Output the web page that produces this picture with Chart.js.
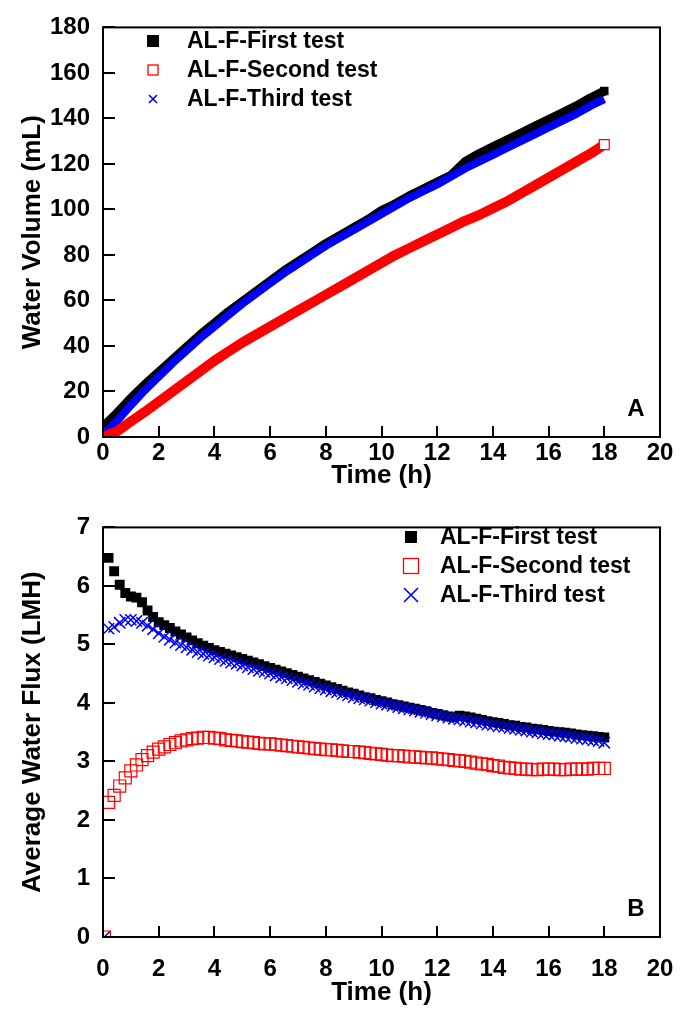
<!DOCTYPE html>
<html>
<head>
<meta charset="utf-8">
<script src="https://cdn.jsdelivr.net/npm/chart.js"></script>
<style>
  html, body { margin: 0; padding: 0; background: #fff; }
  .panel { position: absolute; left: 0; width: 680px; }
  #boxA { top: 0; height: 500px; }
  #boxB { top: 500px; height: 511px; }
</style>
</head>
<body>
<div class="panel" id="boxA"><canvas id="volChart"></canvas></div>
<div class="panel" id="boxB"><canvas id="fluxChart"></canvas></div>
<script>
const seriesNames = ["AL-F-First test", "AL-F-Second test", "AL-F-Third test"];
const timeTicks = [0, 2, 4, 6, 8, 10, 12, 14, 16, 18, 20];
const volTicks = [0, 20, 40, 60, 80, 100, 120, 140, 160, 180];
const fluxTicks = [0, 1, 2, 3, 4, 5, 6, 7];

// panel A: cumulative water volume (mL), read every 0.5 h
const volTime = [0, 0.5, 1, 1.5, 2, 2.5, 3, 3.5, 4, 4.5, 5, 5.5, 6, 6.5, 7, 7.5, 8, 8.5, 9, 9.5,
  10, 10.5, 11, 11.5, 12, 12.5, 13, 13.5, 14, 14.5, 15, 15.5, 16, 16.5, 17, 17.5, 18];
const volFirst = [4.5, 10.5, 17, 23, 28.5, 34, 39.5, 45, 50, 55, 59.5, 64, 68.5, 73, 77, 81, 85, 88.5, 92, 95.5,
  99.5, 102.5, 106, 109, 112, 115, 121, 124.5, 127.5, 130.5, 133.5, 136.5, 139.5, 142.5, 145.5, 149, 152];
const volSecond = [0, 2.5, 6.8, 11, 15.5, 20, 24.5, 29, 33.5, 37.5, 41.5, 45, 48.5, 52, 55.5, 59, 62.5, 66, 69.5, 73,
  76.5, 80, 83, 86, 89, 92, 95, 97.5, 100.5, 103.5, 107, 110.5, 114, 117.5, 121, 124.5, 128.5];
const volThird = [0.5, 7, 14, 20.5, 26.5, 32.5, 38, 43.5, 48.5, 53.5, 58.5, 63, 67.5, 72, 76, 80, 84, 87.5, 91, 94.5,
  98, 101.5, 105, 108, 111, 114.5, 118, 121, 124, 127, 130, 133, 136, 139, 142, 145.5, 148.5];

// panel B: average water flux (LMH)
const fluxTime = [0.05,
  0.2, 0.4, 0.6, 0.8, 1,  1.2, 1.4, 1.6, 1.8, 2,  2.2, 2.4, 2.6, 2.8, 3,  3.2, 3.4, 3.6, 3.8, 4,
  4.2, 4.4, 4.6, 4.8, 5,  5.2, 5.4, 5.6, 5.8, 6,  6.2, 6.4, 6.6, 6.8, 7,  7.2, 7.4, 7.6, 7.8, 8,
  8.2, 8.4, 8.6, 8.8, 9,  9.2, 9.4, 9.6, 9.8, 10,  10.2, 10.4, 10.6, 10.8, 11,  11.2, 11.4, 11.6, 11.8, 12,
  12.2, 12.4, 12.6, 12.8, 13,  13.2, 13.4, 13.6, 13.8, 14,  14.2, 14.4, 14.6, 14.8, 15,  15.2, 15.4, 15.6, 15.8, 16,
  16.2, 16.4, 16.6, 16.8, 17,  17.2, 17.4, 17.6, 17.8, 18];
const fluxFirst = [null,
  6.48, 6.25, 6.02, 5.88, 5.82,  5.8, 5.72, 5.58, 5.47, 5.38,  5.33, 5.28, 5.22, 5.17, 5.12,  5.07, 5.02, 4.98, 4.94, 4.9,
  4.87, 4.84, 4.81, 4.78, 4.75,  4.72, 4.69, 4.66, 4.63, 4.6,  4.57, 4.54, 4.51, 4.48, 4.45,  4.42, 4.39, 4.36, 4.33, 4.3,
  4.27, 4.24, 4.21, 4.18, 4.16,  4.13, 4.1, 4.08, 4.05, 4.03,  4.01, 3.98, 3.96, 3.94, 3.92,  3.9, 3.88, 3.86, 3.83, 3.81,
  3.79, 3.77, 3.76, 3.78, 3.77,  3.75, 3.73, 3.71, 3.69, 3.67,  3.66, 3.64, 3.62, 3.61, 3.59,  3.58, 3.56, 3.55, 3.54, 3.52,
  3.51, 3.5, 3.49, 3.48, 3.46,  3.45, 3.44, 3.43, 3.42, 3.41];
const fluxSecond = [0,
  2.3, 2.42, 2.58, 2.72, 2.84,  2.94, 3.03, 3.1, 3.16, 3.21,  3.25, 3.29, 3.32, 3.35, 3.37,  3.39, 3.4, 3.41, 3.41, 3.4,
  3.39, 3.37, 3.36, 3.35, 3.34,  3.33, 3.32, 3.31, 3.3, 3.3,  3.29, 3.28, 3.27, 3.26, 3.25,  3.24, 3.23, 3.22, 3.21, 3.2,
  3.2, 3.19, 3.18, 3.17, 3.17,  3.16, 3.15, 3.14, 3.13, 3.12,  3.11, 3.1, 3.1, 3.09, 3.08,  3.08, 3.07, 3.06, 3.06, 3.05,
  3.04, 3.03, 3.02, 3.01, 3.0,  2.99, 2.97, 2.96, 2.95, 2.93,  2.92, 2.9, 2.89, 2.88, 2.87,  2.87, 2.86, 2.86, 2.87, 2.87,
  2.87, 2.86, 2.86, 2.87, 2.87,  2.87, 2.87, 2.88, 2.88, 2.88];
const fluxThird = [0,
  5.27, 5.3, 5.37, 5.42, 5.42,  5.4, 5.37, 5.32, 5.26, 5.19,  5.13, 5.08, 5.03, 4.99, 4.95,  4.91, 4.87, 4.84, 4.81, 4.78,
  4.75, 4.72, 4.69, 4.67, 4.64,  4.61, 4.58, 4.55, 4.53, 4.5,  4.47, 4.44, 4.42, 4.39, 4.36,  4.33, 4.31, 4.28, 4.25, 4.23,
  4.2, 4.18, 4.15, 4.13, 4.1,  4.08, 4.06, 4.04, 4.01, 3.99,  3.97, 3.95, 3.93, 3.91, 3.89,  3.87, 3.85, 3.83, 3.81, 3.79,
  3.77, 3.75, 3.73, 3.72, 3.7,  3.68, 3.67, 3.65, 3.63, 3.62,  3.6, 3.59, 3.57, 3.56, 3.54,  3.53, 3.51, 3.5, 3.48, 3.47,
  3.46, 3.44, 3.43, 3.42, 3.4,  3.39, 3.38, 3.36, 3.35, 3.32];

const FONT = '"Liberation Sans", Arial, sans-serif';
const tickFont = { family: FONT, size: 24, weight: 'bold' };
const titleFont = { family: FONT, size: 26, weight: 'bold' };

// frame, inward ticks, panel letter and legend
const framePlugin = {
  id: 'frame',
  afterDraw(chart, args, opts) {
    const { ctx, chartArea: a, scales } = chart;
    ctx.save();
    ctx.strokeStyle = '#000';
    ctx.lineWidth = 2;
    ctx.strokeRect(a.left, a.top, a.right - a.left, a.bottom - a.top);
    ctx.beginPath();
    scales.x.ticks.forEach(t => {
      const px = Math.round(scales.x.getPixelForValue(t.value));
      ctx.moveTo(px, a.bottom); ctx.lineTo(px, a.bottom - 11);
    });
    scales.y.ticks.forEach(t => {
      const py = Math.round(scales.y.getPixelForValue(t.value));
      ctx.moveTo(a.left, py); ctx.lineTo(a.left + 12, py);
    });
    ctx.stroke();

    ctx.fillStyle = '#000';
    ctx.font = 'bold 24px ' + FONT;
    ctx.textAlign = 'center';
    ctx.textBaseline = 'middle';
    ctx.fillText(opts.letter, a.right - 24, a.bottom - 28);

    const lg = opts.legend;
    ctx.font = 'bold 23px ' + FONT;
    ctx.textAlign = 'left';
    chart.data.datasets.forEach((ds, i) => {
      const y = lg.y + i * lg.gap;
      const s = lg.sizes[i];
      const col = ds.borderColor;
      if (lg.kinds[i] === 'filled') {
        ctx.fillStyle = col;
        ctx.fillRect(lg.x - s / 2, y - s / 2, s, s);
      } else if (lg.kinds[i] === 'open') {
        ctx.strokeStyle = col; ctx.lineWidth = 1.3;
        ctx.strokeRect(lg.x - s / 2, y - s / 2, s, s);
      } else {
        ctx.strokeStyle = col; ctx.lineWidth = 1.6;
        ctx.beginPath();
        ctx.moveTo(lg.x - s / 2, y - s / 2); ctx.lineTo(lg.x + s / 2, y + s / 2);
        ctx.moveTo(lg.x + s / 2, y - s / 2); ctx.lineTo(lg.x - s / 2, y + s / 2);
        ctx.stroke();
      }
      ctx.fillStyle = '#000';
      ctx.fillText(ds.label, lg.textX, y + 1);
    });
    ctx.restore();
  }
};

function timeAxis(h, tickPad, titlePad) {
  return {
    type: 'linear', min: 0, max: 20,
    afterBuildTicks: s => { s.ticks = timeTicks.map(v => ({ value: v })); },
    afterFit: s => { s.height = h; s.paddingLeft = 0; s.paddingRight = 0; },
    grid: { display: false, drawTicks: false },
    border: { display: false },
    ticks: { color: '#000', font: tickFont, padding: tickPad, maxRotation: 0, autoSkip: false },
    title: { display: true, text: 'Time (h)', color: '#000', font: titleFont, padding: { top: 0, bottom: titlePad } }
  };
}

function valueAxis(min, max, list, text) {
  return {
    type: 'linear', min: min, max: max,
    afterBuildTicks: s => { s.ticks = list.map(v => ({ value: v })); },
    afterFit: s => { s.width = 103; },
    grid: { display: false, drawTicks: false },
    border: { display: false },
    ticks: { color: '#000', font: tickFont, padding: 13, autoSkip: false },
    title: { display: true, text: text, color: '#000', font: titleFont, padding: { top: 17, bottom: 0 } }
  };
}

const lastOnly = r => ctx => ctx.dataIndex === volTime.length - 1 ? r : 0;

new Chart(document.getElementById('volChart'), {
  type: 'line',
  data: {
    labels: volTime,
    datasets: [
      { label: seriesNames[0], data: volFirst, borderColor: '#000000', backgroundColor: '#000000',
        borderWidth: 9, pointStyle: 'rect', pointRadius: lastOnly(6), pointBorderWidth: 0, order: 3 },
      { label: seriesNames[1], data: volSecond, borderColor: '#ff0000', backgroundColor: '#ffffff',
        borderWidth: 10, pointStyle: 'rect', pointRadius: lastOnly(7), pointBorderWidth: 1.2, order: 1 },
      { label: seriesNames[2], data: volThird, borderColor: '#0000ff', backgroundColor: '#0000ff',
        borderWidth: 8, pointRadius: 0, order: 2 }
    ]
  },
  options: {
    responsive: true, maintainAspectRatio: false, animation: false, devicePixelRatio: 1,
    layout: { autoPadding: false, padding: { top: 18, right: 20, bottom: 0, left: 0 } },
    elements: { line: { tension: 0, borderJoinStyle: 'round', borderCapStyle: 'butt' } },
    datasets: { line: { clip: 0 } },
    scales: {
      x: timeAxis(63, 2, 9),
      y: valueAxis(0, 180, volTicks, 'Water Volume (mL)')
    },
    plugins: {
      legend: { display: false }, tooltip: { enabled: false },
      frame: { letter: 'A', legend: { x: 153, textX: 187, y: 41, gap: 29, sizes: [12, 10, 8], kinds: ['filled', 'open', 'cross'] } }
    }
  },
  plugins: [framePlugin]
});

new Chart(document.getElementById('fluxChart'), {
  type: 'line',
  data: {
    labels: fluxTime,
    datasets: [
      { label: seriesNames[0], data: fluxFirst, borderColor: '#000000', backgroundColor: '#000000',
        showLine: false, pointStyle: 'rect', pointRadius: 7, pointBorderWidth: 0, order: 3 },
      { label: seriesNames[1], data: fluxSecond, borderColor: '#ff0000', backgroundColor: 'rgba(255,255,255,0)',
        showLine: false, pointStyle: 'rect', pointRadius: 8.5, pointBorderWidth: 1.2, order: 2 },
      { label: seriesNames[2], data: fluxThird, borderColor: '#0000ff', backgroundColor: '#0000ff',
        showLine: false, pointStyle: 'crossRot', pointRadius: 8, pointBorderWidth: 1.5, order: 1 }
    ]
  },
  options: {
    responsive: true, maintainAspectRatio: false, animation: false, devicePixelRatio: 1,
    layout: { autoPadding: false, padding: { top: 22, right: 20, bottom: 0, left: 0 } },
    datasets: { line: { clip: 0 } },
    scales: {
      x: timeAxis(74, 18, 3),
      y: valueAxis(0, 7, fluxTicks, 'Average Water Flux (LMH)')
    },
    plugins: {
      legend: { display: false }, tooltip: { enabled: false },
      frame: { letter: 'B', legend: { x: 411, textX: 440, y: 37, gap: 29, sizes: [12, 15, 14], kinds: ['filled', 'open', 'cross'] } }
    }
  },
  plugins: [framePlugin]
});
</script>
</body>
</html>
